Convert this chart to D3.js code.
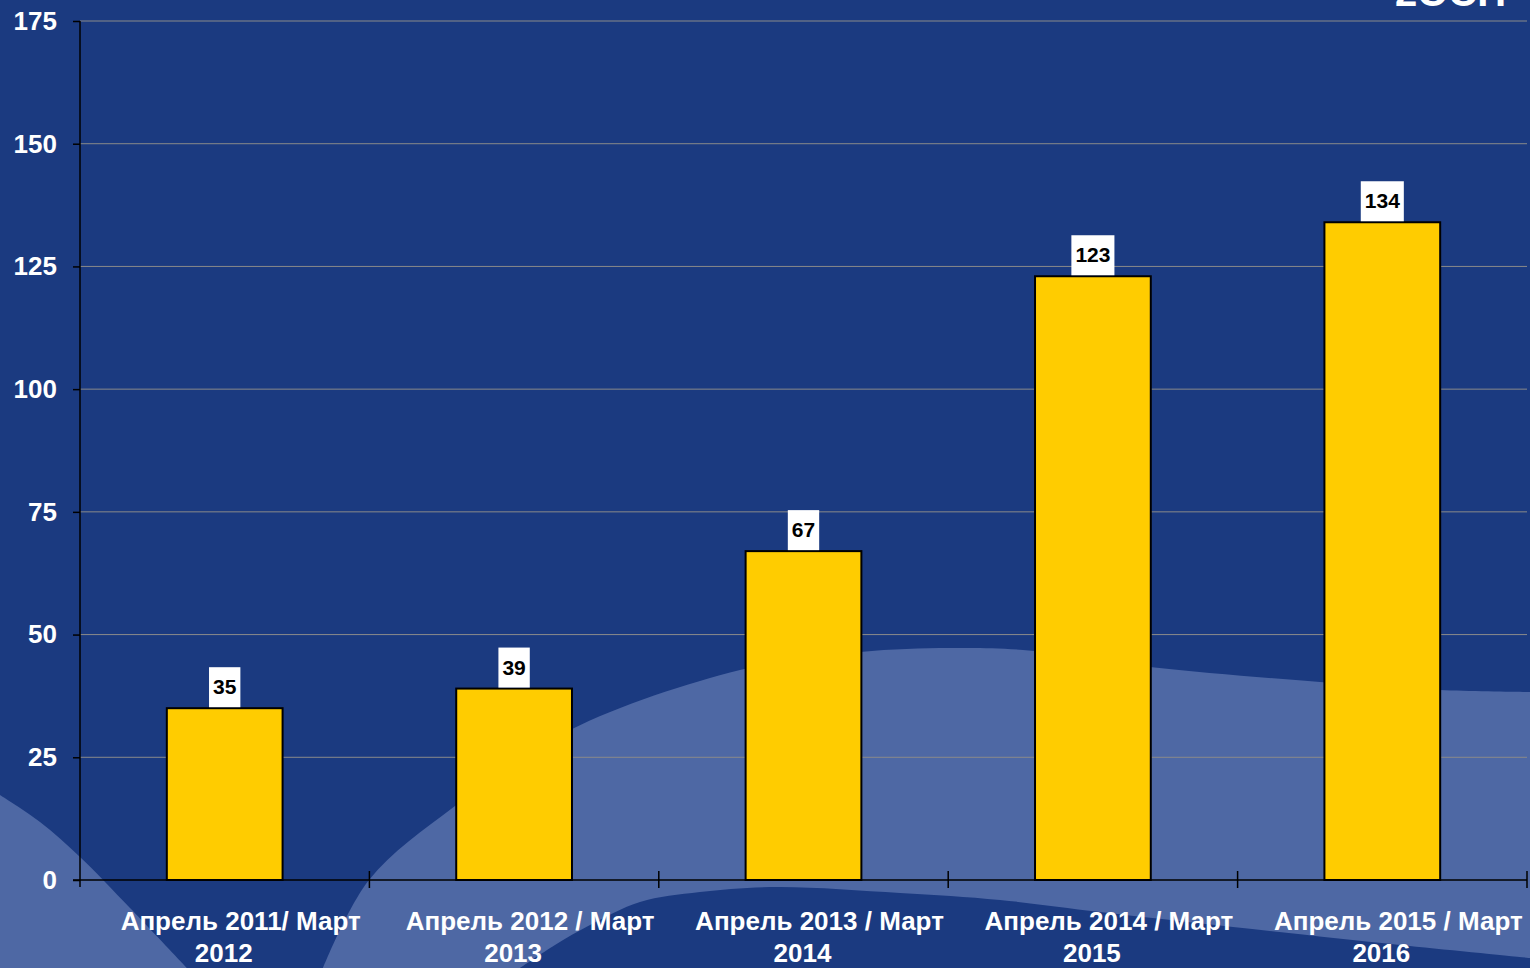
<!DOCTYPE html>
<html>
<head>
<meta charset="utf-8">
<script src="https://cdn.jsdelivr.net/npm/d3@7"></script>
<style>
  html, body { margin: 0; padding: 0; background: #1b3a80; overflow: hidden; }
  svg { display: block; font-family: "Liberation Sans", Arial, sans-serif; }
</style>
</head>
<body>
<svg id="chart" width="1530" height="968"></svg>
<script>
// ---- data ----
const categories = [
  ["Апрель 2011/ Март", "2012"],
  ["Апрель 2012 / Март", "2013"],
  ["Апрель 2013 / Март", "2014"],
  ["Апрель 2014 / Март", "2015"],
  ["Апрель 2015 / Март", "2016"]
];
const values = [35, 39, 67, 123, 134];
const yTicks = [0, 25, 50, 75, 100, 125, 150, 175];
const titleFragment = "2ОСН";

// ---- decorative background waves ----
const waveLeft = [[0, 795], [40, 822], [80, 857], [130, 908], [187, 968], [0, 968]];
const waveTop = [[323, 968], [369, 880], [455, 806], [570, 730], [740, 670], [860, 652],
                 [950, 648], [1023, 650], [1150, 667], [1320, 682], [1440, 690], [1530, 692]];
const waveBottom = [[1530, 958], [1400, 945], [1233, 927], [1100, 912], [1000, 900],
                    [900, 893], [777, 887], [700, 892], [640, 902], [590, 925], [555, 945], [520, 968]];

const W = 1530, H = 968;
const margin = { left: 80, right: 3, top: 21, bottom: 88 };
const svg = d3.select("#chart");

svg.append("rect").attr("width", W).attr("height", H).attr("fill", "#1b3a80");

const lightFill = "#4e68a4";
svg.append("path")
  .attr("d", d3.line().curve(d3.curveCatmullRom)(waveLeft.slice(0, 5)) + "L0,968Z")
  .attr("fill", lightFill);
const topPath = d3.line().curve(d3.curveCatmullRom)(waveTop);
const botPath = d3.line().curve(d3.curveCatmullRom)(waveBottom);
svg.append("path")
  .attr("d", topPath + "L1530,958" + botPath.replace(/^M/, "L") + "Z")
  .attr("fill", lightFill);

// ---- scales ----
const x = d3.scaleBand()
  .domain(d3.range(values.length))
  .range([margin.left, W - margin.right])
  .paddingInner(0.6)
  .paddingOuter(0.3);
const y = d3.scaleLinear().domain([0, 175]).range([H - margin.bottom, margin.top]);

// gridlines
svg.append("g").selectAll("line")
  .data(yTicks.filter(d => d > 0))
  .join("line")
  .attr("x1", margin.left).attr("x2", W - margin.right)
  .attr("y1", d => y(d)).attr("y2", d => y(d))
  .attr("stroke", "#8a8a8a").attr("stroke-width", 1);

// y axis
const yAxis = svg.append("g")
  .attr("transform", `translate(${margin.left},0)`)
  .call(d3.axisLeft(y).tickValues(yTicks).tickSize(7).tickSizeOuter(0).tickPadding(16));
yAxis.select(".domain").attr("stroke", "#000").attr("stroke-width", 1.5)
  .attr("d", `M0,${margin.top}V${y(0) + 7}`);
yAxis.selectAll(".tick line").attr("stroke", "#000").attr("stroke-width", 1.5);
yAxis.selectAll(".tick text")
  .attr("fill", "#fff").attr("font-size", 26).attr("font-weight", "bold")
  .attr("font-family", "'Liberation Sans', Arial, sans-serif");

// x axis line + boundary ticks
const xg = svg.append("g");
xg.append("line")
  .attr("x1", margin.left - 7).attr("x2", W - margin.right)
  .attr("y1", y(0)).attr("y2", y(0))
  .attr("stroke", "#000").attr("stroke-width", 1.5);
const step = x.step();
const boundaries = d3.range(values.length + 1).map(i => x(0) - step * 0.3 + i * step);
xg.selectAll("line.b")
  .data(boundaries.slice(1))
  .join("line").attr("class", "b")
  .attr("x1", d => d).attr("x2", d => d)
  .attr("y1", y(0) - 9).attr("y2", y(0) + 8)
  .attr("stroke", "#000").attr("stroke-width", 1.5);

// bars
svg.append("g").selectAll("rect")
  .data(values)
  .join("rect")
  .attr("x", (d, i) => x(i))
  .attr("width", x.bandwidth())
  .attr("y", d => y(d))
  .attr("height", d => y(0) - y(d))
  .attr("fill", "#ffcc00")
  .attr("stroke", "#000").attr("stroke-width", 2);

// value labels
const lab = svg.append("g").selectAll("g")
  .data(values)
  .join("g")
  .attr("transform", (d, i) => `translate(${x(i) + x.bandwidth() / 2},${y(d) - 1})`);
lab.append("text")
  .attr("class", "v")
  .attr("text-anchor", "middle")
  .attr("y", -13)
  .attr("font-size", 21).attr("font-weight", "bold").attr("fill", "#000")
  .text(d => d);
lab.each(function () {
  const g = d3.select(this);
  const t = g.select("text");
  const w = t.node().getComputedTextLength() + 8;
  g.insert("rect", "text")
    .attr("x", -w / 2).attr("width", w)
    .attr("y", -40).attr("height", 40)
    .attr("fill", "#fff");
});

// category labels
const cat = svg.append("g").selectAll("text")
  .data(categories)
  .join("text")
  .attr("text-anchor", "middle")
  .attr("fill", "#fff").attr("font-size", 26).attr("font-weight", "bold");
cat.append("tspan")
  .attr("x", (d, i) => x(i) + x.bandwidth() / 2 + 16)
  .attr("y", 930)
  .text(d => d[0]);
cat.append("tspan")
  .attr("x", (d, i) => x(i) + x.bandwidth() / 2 - 1)
  .attr("y", 962)
  .text(d => d[1]);

// clipped title fragment at top right
svg.append("text")
  .attr("x", 1395).attr("y", 6)
  .attr("fill", "#fff").attr("font-size", 40).attr("font-weight", "bold")
  .text(titleFragment);
</script>
</body>
</html>
